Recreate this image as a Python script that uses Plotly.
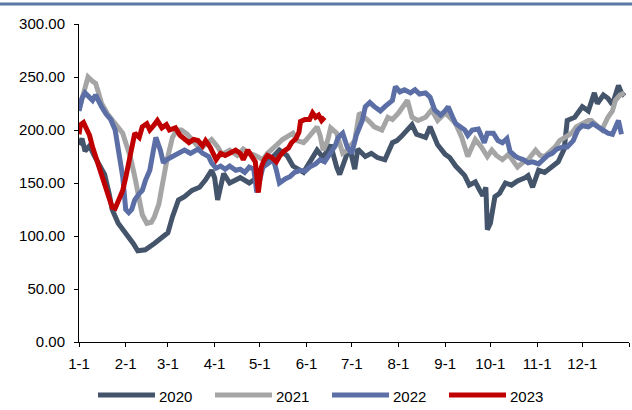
import plotly.graph_objects as go

# day-of-year (0 = Jan 1) and values for each year
d2020 = [0,2,4,7,10,14,17,20,22,26,31,36,39,44,50,55,59,62,66,70,75,80,84,88,90,
         92,96,100,107,113,118,120,125,129,133,138,142,149,153,158,162,167,171,173,178,180,
         183,185,190,194,198,203,208,211,214,218,221,224,230,233,238,243,246,250,253,256,259,
         263,266,268,270,271,273,276,279,283,287,291,296,298,301,305,309,314,318,320,322,324,
         329,334,338,342,344,348,351,354,358,360,362]
v2020 = [186,192,180,185,176,165,158,140,125,112,103,93,86,87,93,99,103,118,134,137,143,146,153,162,155,
         134,159,150,155,150,155,162,169,174,181,176,166,160,170,181,174,186,165,158,178,181,
         163,182,175,178,174,172,188,190,194,200,205,196,193,203,186,177,174,166,162,157,148,
         151,143,138,146,106,112,137,140,150,148,152,155,157,146,162,160,165,170,176,182,209,
         212,222,218,235,225,233,230,224,242,235,232]

d2021 = [0,3,6,9,11,13,15,19,22,25,29,31,34,37,40,42,45,48,50,53,55,58,62,65,68,72,75,78,82,85,88,
         92,95,100,105,109,113,117,122,125,129,132,135,139,142,145,149,151,155,158,160,162,165,167,
         171,175,178,183,186,190,192,196,201,205,208,212,215,218,221,225,230,234,238,243,246,250,
         254,258,263,267,271,274,277,281,285,288,291,295,298,303,306,309,313,316,319,322,327,330,
         334,338,340,344,347,351,354,356,359,362]
v2021 = [219,235,250,246,244,235,225,215,209,203,197,188,175,156,135,120,112,113,118,130,146,169,193,200,200,196,191,186,184,188,191,
         184,177,181,176,182,178,176,172,178,184,187,191,194,197,190,188,191,198,203,195,181,190,202,
         197,178,181,190,216,212,209,203,200,212,210,216,222,228,212,209,212,219,209,216,212,206,
         193,175,191,184,175,181,176,172,177,170,165,170,172,181,176,175,180,184,190,193,197,203,
         206,209,209,204,200,212,218,228,233,235]

d2022 = [0,2,4,7,9,11,13,15,18,21,24,26,29,31,33,35,37,40,42,44,47,49,51,54,56,58,62,65,70,74,79,82,86,
         88,91,94,97,100,104,107,110,113,116,118,120,122,125,129,131,133,137,140,143,147,150,153,157,160,
         163,167,170,172,175,178,181,184,188,190,193,196,200,203,206,208,210,213,216,220,223,226,230,233,
         236,240,243,245,248,250,253,256,258,261,265,267,269,271,275,278,281,284,286,289,291,295,298,
         301,305,308,311,314,317,321,324,328,331,334,338,341,344,348,351,354,356,358,360]
v2022 = [218,230,235,230,228,233,226,222,215,210,200,184,156,125,122,125,134,140,143,152,162,178,193,181,169,172,175,177,181,178,182,178,175,
         169,164,166,163,166,162,163,160,165,163,141,152,165,168,172,162,150,154,156,160,162,161,165,168,172,
         170,178,185,193,197,184,178,195,209,222,226,222,218,222,225,228,241,236,238,235,238,234,235,231,
         219,214,218,222,212,206,203,200,195,200,201,195,188,197,197,190,188,192,180,176,174,172,169,
         170,168,172,176,178,182,184,184,190,200,204,203,206,203,200,197,196,203,209,196]

d2023 = [0,1,3,5,7,9,11,14,16,18,20,22,24,26,29,31,33,35,37,40,42,45,47,50,52,55,58,60,64,67,70,73,76,79,
         82,84,87,89,91,94,97,100,104,107,109,112,115,117,119,121,123,125,128,131,133,136,139,141,144,
         146,147,150,153,155,157,159,161,163]
v2023 = [196,205,207,200,195,184,175,162,152,146,134,127,126,132,143,155,168,182,197,193,203,206,200,205,209,202,205,200,202,195,192,188,191,190,
         185,190,184,178,172,178,176,178,181,178,172,181,175,170,141,165,172,176,174,170,175,180,183,188,192,
         198,208,210,210,216,212,214,209,212]

years = ["2020", "2021", "2022", "2023"]
colors = ["#44546A", "#A5A5A5", "#5B6FA6", "#C00000"]
xs = [d2020, d2021, d2022, d2023]
ys = [v2020, v2021, v2022, v2023]

month_starts = [0, 31, 59, 90, 120, 151, 181, 212, 243, 273, 304, 334, 365]
month_labels = ["1-1", "2-1", "3-1", "4-1", "5-1", "6-1", "7-1", "8-1", "9-1", "10-1", "11-1", "12-1", ""]

W, H = 632, 410
ML, MR, MT, MB = 79, 3, 24, 68
PW, PH = W - ML - MR, H - MT - MB

def px_x(p):
    return (p - ML) / PW

def px_y(p):
    return (H - MB - p) / PH

fig = go.Figure()
for name, c, x, y in zip(years, colors, xs, ys):
    fig.add_trace(go.Scatter(x=x, y=y, mode="lines", name=name,
                             line=dict(color=c, width=5)))

font = dict(family="Liberation Sans, Arial, sans-serif", size=15, color="#000000")

# legend drawn as shapes + text annotations
shapes = [dict(type="line", xref="paper", yref="paper",
               x0=px_x(0), x1=px_x(W), y0=px_y(4), y1=px_y(4),
               line=dict(color="#5A78A6", width=3))]
annotations = []
for i, (name, c) in enumerate(zip(years, colors)):
    sx = 98 + 117 * i
    shapes.append(dict(type="line", xref="paper", yref="paper",
                       x0=px_x(sx), x1=px_x(sx + 57), y0=px_y(395), y1=px_y(395),
                       line=dict(color=c, width=5)))
    annotations.append(dict(text=name, xref="paper", yref="paper",
                            x=px_x(sx + 59), y=px_y(396), xanchor="left", yanchor="middle",
                            showarrow=False, font=font))

fig.update_layout(
    width=W, height=H,
    margin=dict(l=ML, r=MR, t=MT, b=MB, autoexpand=False),
    paper_bgcolor="white", plot_bgcolor="white",
    font=font,
    showlegend=False,
    xaxis=dict(range=[0, 365], tickvals=month_starts, ticktext=month_labels,
               showgrid=False, zeroline=False, showline=True, linecolor="#000000", linewidth=1,
               ticks="outside", ticklen=4, tickcolor="#000000", fixedrange=True,
               automargin=False, ticklabelstandoff=4),
    yaxis=dict(range=[0, 300], dtick=50, tickformat=".2f",
               showgrid=False, zeroline=False, showline=True, linecolor="#000000", linewidth=1,
               ticks="outside", ticklen=4, tickcolor="#000000", fixedrange=True,
               automargin=False, ticklabelstandoff=6),
    shapes=shapes,
    annotations=annotations,
)

fig.write_html("out.html", config={"displayModeBar": False},
               post_script="document.body.style.margin='0';document.body.style.overflow='hidden';")
